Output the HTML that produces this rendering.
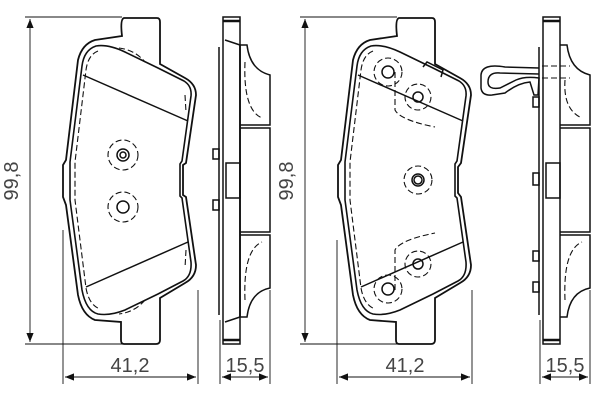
<!DOCTYPE html>
<html><head><style>html,body{margin:0;padding:0;background:#fff}svg{display:block}text{font-family:"Liberation Sans",sans-serif;fill:#444}</style></head><body>
<svg width="600" height="400" viewBox="0 0 600 400" xmlns="http://www.w3.org/2000/svg" fill="none" stroke="#111" stroke-width="1.5">
<defs><marker id="a" viewBox="0 0 10 10" refX="10" refY="5" markerWidth="12" markerHeight="9" orient="auto-start-reverse" markerUnits="userSpaceOnUse"><path d="M0,1 L10,5 L0,9z" fill="#111" stroke="none"/></marker></defs>
<g id="pad">
<line x1="25" y1="17" x2="122" y2="17" stroke-width="0.9"/><line x1="25" y1="344" x2="122" y2="344" stroke-width="0.9"/>
<line x1="30" y1="19" x2="30" y2="342" stroke-width="0.9" marker-start="url(#a)" marker-end="url(#a)"/>
<text x="18" y="181" font-size="20" transform="rotate(-90 18 181)" text-anchor="middle" stroke="none">99,8</text>
<line x1="63" y1="230" x2="63" y2="384" stroke-width="0.9"/><line x1="198" y1="290" x2="198" y2="384" stroke-width="0.9"/>
<line x1="65" y1="377" x2="196" y2="377" stroke-width="0.9" marker-start="url(#a)" marker-end="url(#a)"/>
<text x="130" y="372" font-size="20" text-anchor="middle" stroke="none">41,2</text>
<path d="M122,36 Q120,19 124,18 L157,18 Q160,18 160,22 L160,64 L185,78 Q196,84 196,95 L186,163 L183,165 L183,195 L186,197 L196,265 Q196,277 185,283 L160,298 L160,340 Q160,344 156,344 L124,344 Q121,344 121,340 L121,322 L95,320 Q82,315 78,295 L66,205 L63,197 L63,165 L66,160 L78,60 Q82,44 95,40 Z" stroke-width="1.8"/>
<path d="M96,46 Q84,50 82,66 L70,162 L70,200 L82,290 Q86,311 98,314 Q110,316 125,310 L158,294 L183,281 Q192,276 191,262 L182,198 L180,196 L180,164 L182,161 L191,96 Q192,86 184,81 L158,68 L125,52 Q108,44 96,46 Z" stroke-width="1.6"/>
<path d="M98,51 Q88,55 86,70 L75,162 L75,200 L86,288 Q89,305 100,309" stroke-dasharray="6,3" stroke-width="1.1"/>
<path d="M119,48 Q135,50 145,62 M185,95 L186,112 M186,250 L185,268 M145,300 Q135,312 119,314" stroke-dasharray="6,3" stroke-width="1.1"/>
<line x1="83" y1="75" x2="188" y2="121"/><line x1="86" y1="287" x2="188" y2="242"/>
<circle cx="123" cy="155" r="6"/><circle cx="123" cy="155" r="3"/><circle cx="123" cy="155" r="15" stroke-dasharray="6,3" stroke-width="1.1"/>
<circle cx="123" cy="207" r="6"/><circle cx="123" cy="207" r="15" stroke-dasharray="6,3" stroke-width="1.1"/>
</g>
<g id="side">
<rect x="223" y="17" width="17" height="327" stroke-width="1.5"/>
<line x1="223" y1="21" x2="240" y2="21" stroke-width="2.5"/><line x1="223" y1="340" x2="240" y2="340" stroke-width="2.5"/>
<path d="M225,40 L240,45 M225,322 L240,317"/>
<line x1="219" y1="47" x2="219" y2="315"/>
<path d="M240,45 L240,317" stroke-width="1.8"/>
<path d="M240,45 L247,45 Q250,70 270,75 L270,125 L240,125 M240,128 L270,128 L270,232 L240,232 M240,235 L270,235 L270,288 Q250,292 247,317 L240,317" stroke-width="1.5"/>
<path d="M245,62 Q243,110 262,118 M245,300 Q243,250 262,242" stroke-dasharray="6,3" stroke-width="1.1"/>
<rect x="213" y="149" width="6" height="10"/><rect x="213" y="200" width="6" height="10"/>
<rect x="226" y="163" width="14" height="35"/>
<line x1="220" y1="320" x2="220" y2="384" stroke-width="0.9"/><line x1="270" y1="290" x2="270" y2="384" stroke-width="0.9"/>
<line x1="222" y1="377" x2="268" y2="377" stroke-width="0.9" marker-start="url(#a)" marker-end="url(#a)"/>
<text x="245" y="372" font-size="20" text-anchor="middle" stroke="none">15,5</text>
</g>
<g transform="translate(275,0)">
<line x1="25" y1="17" x2="122" y2="17" stroke-width="0.9"/><line x1="25" y1="344" x2="122" y2="344" stroke-width="0.9"/>
<line x1="30" y1="19" x2="30" y2="342" stroke-width="0.9" marker-start="url(#a)" marker-end="url(#a)"/>
<text x="18" y="181" font-size="20" transform="rotate(-90 18 181)" text-anchor="middle" stroke="none">99,8</text>
<line x1="62" y1="240" x2="62" y2="384" stroke-width="0.9"/><line x1="197" y1="290" x2="197" y2="384" stroke-width="0.9"/>
<line x1="64" y1="377" x2="195" y2="377" stroke-width="0.9" marker-start="url(#a)" marker-end="url(#a)"/>
<text x="130" y="372" font-size="20" text-anchor="middle" stroke="none">41,2</text>
<path d="M122,36 Q120,19 124,18 L157,18 Q160,18 160,22 L160,64 L185,78 Q196,84 196,95 L186,163 L183,167 L183,193 L186,197 L196,265 Q196,277 185,283 L160,298 L160,340 Q160,344 156,344 L124,344 Q121,344 121,340 L121,322 L95,320 Q82,315 78,295 L66,205 L63,197 L63,165 L66,160 L78,60 Q82,44 95,40 Z" stroke-width="1.8"/>
<path d="M96,46 Q84,50 82,66 L70,162 L70,200 L82,290 Q86,311 98,314 Q110,316 125,310 L158,294 L183,281 Q192,276 191,262 L182,198 L180,196 L180,164 L182,161 L191,96 Q192,86 184,81 L158,68 L125,52 Q108,44 96,46 Z" stroke-width="1.6"/>
<path d="M98,51 Q88,55 86,70 L75,162 L75,200 L86,288 Q89,305 100,309" stroke-dasharray="6,3" stroke-width="1.1"/>
<line x1="83" y1="75" x2="188" y2="121"/><line x1="86" y1="287" x2="188" y2="242"/>
<path d="M148,67 L152,62 L168,70 L166,77" stroke-width="1.5"/>
<circle cx="113" cy="72" r="6"/><circle cx="113" cy="72" r="14" stroke-dasharray="6,3" stroke-width="1.1"/>
<circle cx="143" cy="97" r="5"/><circle cx="143" cy="97" r="13" stroke-dasharray="6,3" stroke-width="1.1"/>
<circle cx="143" cy="180" r="6"/><circle cx="143" cy="180" r="4"/><circle cx="143" cy="180" r="14" stroke-dasharray="6,3" stroke-width="1.1"/>
<circle cx="143" cy="264" r="5"/><circle cx="143" cy="264" r="13" stroke-dasharray="6,3" stroke-width="1.1"/>
<circle cx="113" cy="289" r="6"/><circle cx="113" cy="289" r="14" stroke-dasharray="6,3" stroke-width="1.1"/>
<path d="M120,72 L120,110 Q125,120 160,127 M120,290 L120,250 Q125,240 160,233" stroke-dasharray="6,3" stroke-width="1.1"/>
</g>
<g transform="translate(320,0)">
<rect x="223" y="17" width="17" height="327" stroke-width="1.5"/>
<line x1="223" y1="21" x2="240" y2="21" stroke-width="2.5"/><line x1="223" y1="340" x2="240" y2="340" stroke-width="2.5"/>
<line x1="219" y1="47" x2="219" y2="315"/>
<path d="M240,45 L247,45 Q250,70 270,75 L270,125 L240,125 M240,128 L270,128 L270,232 L240,232 M240,235 L270,235 L270,288 Q250,292 247,317 L240,317" stroke-width="1.5"/>
<path d="M245,80 Q243,110 262,118 M245,300 Q243,250 262,242" stroke-dasharray="6,3" stroke-width="1.1"/>
<path d="M222,66 L250,66 M222,78 L250,78" stroke-dasharray="6,3" stroke-width="1.1"/>
<rect x="213" y="97" width="6" height="10"/><rect x="213" y="173" width="6" height="12"/><rect x="213" y="251" width="6" height="10"/><rect x="213" y="282" width="6" height="10"/>
<rect x="226" y="163" width="14" height="35"/>
<path d="M219,68 L185,67 Q162,63 161,75 L161,88 Q162,96 172,95 L185,93 Q198,83 210,82 L214,95 L218,95 L219,78 Q205,76 196,80 L180,88 Q168,90 168,82 Q168,72 180,73 L219,74" stroke-width="1.5"/>
<line x1="220" y1="320" x2="220" y2="384" stroke-width="0.9"/><line x1="270" y1="290" x2="270" y2="384" stroke-width="0.9"/>
<line x1="222" y1="377" x2="268" y2="377" stroke-width="0.9" marker-start="url(#a)" marker-end="url(#a)"/>
<text x="245" y="372" font-size="20" text-anchor="middle" stroke="none">15,5</text>
</g>
</svg>
</body></html>
